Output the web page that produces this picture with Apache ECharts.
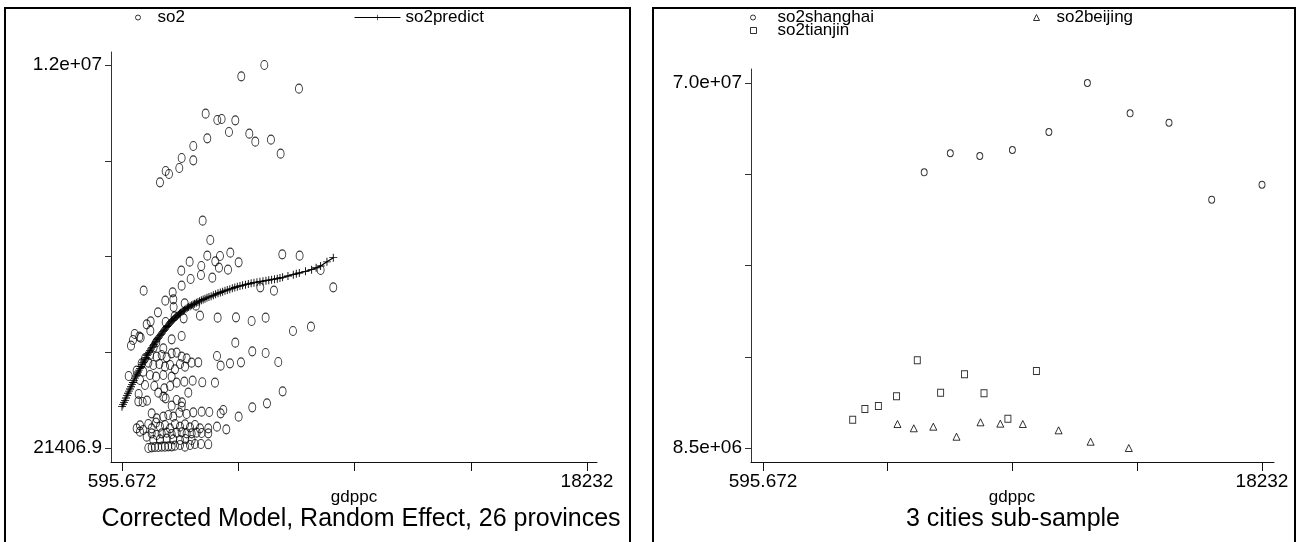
<!DOCTYPE html>
<html>
<head>
<meta charset="utf-8">
<script src="https://cdn.jsdelivr.net/npm/echarts@6/dist/echarts.min.js"></script>
<style>
html,body{margin:0;padding:0;background:#fff;}
#c{width:1298px;height:542px;}
</style>
</head>
<body>
<div id="c"></div>
<script>
// ---------- DATA ----------
// Left panel: so2 (observed) vs gdppc, 26 provinces
const so2Gdppc = [
2036,2251,2377,2769,2858,3300,3300,3768,3831,4210,4375,4653,4893,5120,5424,5651,5993,6245,6612,7307,
3654,3945,3831,4311,4703,6675,7332,3161,3604,4134,5019,4273,4615,2845,8129,3199,3591,4021,2858,8609,5841,6359,1417,
2517,2238,2542,2554,2972,1960,3401,3553,4223,4918,5512,6043,7080,7762,4893,5537,6043,6523,4198,4337,4691,5108,6688,6094,5537,5019,
1531,1683,2251,2479,2858,2934,2592,1076,1253,937,1012,1303,1670,1897,2163,1796,1657,1910,2100,2289,2479,2668,2858,3047,3237,3490,
1467,1341,1594,1783,2011,2226,2416,2605,2795,2985,848,1151,1404,1657,1885,2163,2479,2668,2959,3275,3641,4122,1278,1467,1821,2201,
2416,1973,2163,3111,1227,1215,1379,1543,2251,2479,2668,2870,2858,
1720,1910,2163,2352,2542,2770,3047,3300,3616,3907,4337,4438,1151,1278,1404,1594,1720,1885,2036,2226,2416,2605,2795,2985,3175,3364,
3553,3869,4198,4552,1278,1531,1720,1910,2100,2289,2479,2668,2858,3047,3237,3427,3616,3869,1783,2036,2289,2542,2795,2997,3237,
1594,1720,1847,1973,2100,2226,2352,2479,2605,2795,2985,3175,3364,3591,3869
];
const so2Values = [
8.331e6,8.686e6,8.592e6,8.779e6,9.092e6,9.467e6,9.019e6,10.479e6,9.707e6,10.281e6,10.312e6,9.905e6,10.270e6,11.646e6,9.853e6,9.603e6,12.0e6,9.665e6,9.228e6,11.260e6,
7.132e6,6.528e6,6.038e6,6.027e6,6.131e6,6.079e6,6.038e6,5.850e6,5.714e6,5.860e6,5.829e6,5.662e6,5.600e6,5.568e6,5.589e6,5.308e6,5.433e6,5.349e6,5.099e6,5.047e6,5.047e6,4.943e6,4.943e6,
4.890e6,4.630e6,4.671e6,4.432e6,4.546e6,4.265e6,4.473e6,4.161e6,4.098e6,4.108e6,3.994e6,4.098e6,3.681e6,3.816e6,3.316e6,3.045e6,2.993e6,2.711e6,2.899e6,2.597e6,2.670e6,2.701e6,1.794e6,1.419e6,1.294e6,1.002e6,
3.889e6,3.983e6,3.962e6,3.420e6,3.525e6,4.077e6,4.140e6,3.587e6,3.504e6,3.222e6,3.400e6,3.472e6,3.691e6,3.327e6,3.139e6,3.170e6,2.930e6,2.878e6,2.930e6,2.857e6,2.982e6,3.003e6,2.878e6,2.826e6,2.691e6,2.701e6,
2.826e6,2.670e6,2.691e6,2.618e6,2.649e6,2.565e6,2.618e6,2.482e6,2.649e6,2.565e6,2.274e6,2.440e6,2.409e6,2.305e6,2.253e6,2.305e6,2.253e6,2.065e6,2.096e6,2.128e6,2.076e6,2.065e6,2.148e6,1.992e6,1.961e6,1.888e6,
1.961e6,1.752e6,1.627e6,1.752e6,1.711e6,1.481e6,1.460e6,1.502e6,1.575e6,1.346e6,1.523e6,1.450e6,1.315e6,
1.106e6,0.950e6,1.002e6,1.054e6,1.002e6,1.127e6,1.085e6,1.137e6,1.158e6,1.148e6,1.106e6,1.210e6,0.637e6,0.731e6,0.585e6,0.772e6,0.637e6,0.814e6,0.689e6,0.741e6,0.637e6,0.772e6,0.689e6,0.762e6,0.668e6,0.741e6,
0.637e6,0.637e6,0.689e6,0.606e6,0.533e6,0.376e6,0.480e6,0.428e6,0.480e6,0.501e6,0.460e6,0.501e6,0.512e6,0.480e6,0.480e6,0.501e6,0.491e6,0.480e6,0.272e6,0.293e6,0.314e6,0.293e6,0.272e6,0.303e6,0.272e6,
21406.9,43000,53000,53000,63000,63000,74000,74000,95000,116000,63000,116000,147000,147000,137000
];
// Left panel: fitted values so2predict
const predictGdppc = [595.672,633,671,709,747,785,823,861,899,937,974,1012,1050,1088,1126,1164,1202,1240,1278,1316,1354,1392,1429,1467,1505,1543,1581,1619,1657,1695,1733,1771,1809,1847,1885,1922,1960,1998,2036,2074,2112,2150,2188,2226,2264,2302,2340,2378,2416,2454,2491,2529,2567,2605,2643,2687,2731,2775,2820,2870,2921,2971,3022,3072,3123,3180,3237,3294,3351,3414,3477,3540,3604,3673,3743,3818,3894,3976,4059,4147,4236,4324,4413,4501,4589,4684,4779,4874,4969,5070,5171,5278,5386,5493,5601,5714,5828,5942,6056,6163,6271,6378,6485,6587,6688,6890,7092,7206,7320,7554,7788,7958,8129,8369,8609];
const predictValues = [1.314e6,1.378e6,1.440e6,1.512e6,1.586e6,1.660e6,1.732e6,1.800e6,1.867e6,1.935e6,2.003e6,2.070e6,2.138e6,2.206e6,2.274e6,2.337e6,2.399e6,2.456e6,2.513e6,2.571e6,2.628e6,2.686e6,2.743e6,2.800e6,2.857e6,2.910e6,2.962e6,3.014e6,3.066e6,3.118e6,3.170e6,3.217e6,3.264e6,3.311e6,3.358e6,3.405e6,3.452e6,3.494e6,3.535e6,3.577e6,3.618e6,3.660e6,3.702e6,3.744e6,3.785e6,3.822e6,3.858e6,3.895e6,3.931e6,3.968e6,4.004e6,4.036e6,4.067e6,4.098e6,4.129e6,4.161e6,4.192e6,4.223e6,4.254e6,4.286e6,4.317e6,4.348e6,4.379e6,4.406e6,4.432e6,4.458e6,4.484e6,4.510e6,4.536e6,4.562e6,4.588e6,4.614e6,4.640e6,4.666e6,4.692e6,4.718e6,4.744e6,4.770e6,4.796e6,4.828e6,4.859e6,4.885e6,4.911e6,4.937e6,4.963e6,4.989e6,5.015e6,5.042e6,5.068e6,5.089e6,5.109e6,5.130e6,5.151e6,5.172e6,5.193e6,5.209e6,5.224e6,5.240e6,5.255e6,5.271e6,5.286e6,5.302e6,5.318e6,5.339e6,5.359e6,5.401e6,5.443e6,5.469e6,5.495e6,5.547e6,5.599e6,5.657e6,5.714e6,5.844e6,5.974e6];
// Right panel: 3 cities
const shanghaiGdppc = [6293,7216,8258,9410,10700,12061,13570,14945,16454,18232];
const shanghaiSo2   = [54.95e6,58.16e6,57.70e6,58.71e6,61.74e6,70.0e6,64.89e6,63.31e6,50.34e6,52.87e6];
const tianjinGdppc  = [3766,4197,4674,5314,6049,6873,7717,8407,9251,10259];
const tianjinSo2    = [13.27e6,15.07e6,15.58e6,17.21e6,23.28e6,17.82e6,20.92e6,17.72e6,13.44e6,21.47e6];
const beijingGdppc  = [5349,5925,6615,7435,8283,8983,9778,11043,12174,13524];
const beijingSo2    = [12.54e6,11.82e6,12.09e6,10.40e6,12.83e6,12.60e6,12.54e6,11.48e6,9.56e6,8.5e6];
// Ticks
const xTickValues = [595.672,5004.754,9413.836,13822.918,18232];
const xTickLabels = ['595.672','','','','18232'];
const leftYTickValues = [21406.9,3016055.1,6010703.5,9005351.7,12000000];
const leftYTickLabels = ['21406.9','','','','1.2e+07'];
const rightYTickValues = [8.5e6,23.875e6,39.25e6,54.625e6,70e6];
const rightYTickLabels = ['8.5e+06','','','','7.0e+07'];
const xTitle = 'gdppc';
const panelTitles = ['Corrected Model, Random Effect, 26 provinces', '3 cities sub-sample'];

// ---------- CHART ----------
const FONT = 'Liberation Sans';
const zip = (a, b) => a.map((v, i) => [v, b[i]]);
const labelFor = (vals, labs) => (v) => {
  let best = 0, d = Infinity;
  vals.forEach((t, i) => { const dd = Math.abs(t - v); if (dd < d) { d = dd; best = i; } });
  return labs[best];
};
const shown = (vals, labs) => vals.filter((v, i) => labs[i] !== '');
const PLUS_F = 'path://M0,4H9V5H0Z M4,0H5V9H4Z';

function xAxisCfg(gi, min, max) {
  return {
    type: 'value', gridIndex: gi, min: min, max: max,
    splitLine: {show: false},
    axisLine: {show: true, onZero: false, lineStyle: {color: '#111', width: 1}},
    axisTick: {show: true, length: 9, customValues: xTickValues, lineStyle: {color: '#111'}},
    axisLabel: {customValues: shown(xTickValues, xTickLabels), formatter: labelFor(xTickValues, xTickLabels),
      fontFamily: FONT, fontSize: 19, color: '#000', margin: 10, hideOverlap: false}
  };
}
function yAxisCfg(gi, min, max, vals, labs) {
  return {
    type: 'value', gridIndex: gi, min: min, max: max,
    splitLine: {show: false},
    axisLine: {show: true, onZero: false, lineStyle: {color: '#333', width: 1}},
    axisTick: {show: true, length: 6, customValues: vals, lineStyle: {color: '#333'}},
    axisLabel: {customValues: shown(vals, labs), formatter: labelFor(vals, labs),
      fontFamily: FONT, fontSize: 19, color: '#000', margin: 9, hideOverlap: false}
  };
}
const hollow = {color: 'rgba(0,0,0,0)', borderColor: '#000', borderWidth: 1};
const legTxt = (pad) => ({fontFamily: FONT, fontSize: 17, color: '#000', padding: [0, 0, 0, pad]});
const legBase = {padding: 0, selectedMode: false};
const txt = (x, y, text, size) => ({type: 'text', x: x, y: y, silent: true,
  style: {text: text, fontFamily: FONT, fontSize: size, fill: '#000', align: 'center', verticalAlign: 'middle'}});

const option = {
  animation: false,
  backgroundColor: '#fff',
  grid: [
    {left: 111, top: 52, width: 486, height: 410},
    {left: 751, top: 69, width: 523, height: 393}
  ],
  xAxis: [xAxisCfg(0, 178.5, 18611), xAxisCfg(1, 171.6, 18656)],
  yAxis: [
    yAxisCfg(0, -416457, 12406588, leftYTickValues, leftYTickLabels),
    yAxisCfg(1, 6141100, 72358900, rightYTickValues, rightYTickLabels)
  ],
  legend: [
    Object.assign({data: ['so2'], left: 135, top: 9, itemWidth: 5, itemHeight: 7,
      itemStyle: {borderWidth: 1}, textStyle: legTxt(12)}, legBase),
    Object.assign({data: ['so2predict'], left: 354, top: 9, itemWidth: 46, itemHeight: 7,
      itemStyle: {borderWidth: 0}, lineStyle: {width: 1}, textStyle: legTxt(0)}, legBase),
    Object.assign({data: ['so2shanghai'], left: 750, top: 9, itemWidth: 5, itemHeight: 6,
      itemStyle: {borderWidth: 1}, textStyle: legTxt(17)}, legBase),
    Object.assign({data: ['so2beijing'], left: 1033, top: 9, itemWidth: 6, itemHeight: 6,
      itemStyle: {borderWidth: 1}, textStyle: legTxt(12)}, legBase),
    Object.assign({data: ['so2tianjin'], left: 750, top: 22, itemWidth: 6, itemHeight: 6,
      itemStyle: {borderWidth: 1}, textStyle: legTxt(16)}, legBase)
  ],
  graphic: [
    {type: 'rect', shape: {x: 5, y: 8, width: 625, height: 545}, style: {fill: 'none', stroke: '#000', lineWidth: 2}, silent: true},
    {type: 'rect', shape: {x: 653, y: 8, width: 642, height: 545}, style: {fill: 'none', stroke: '#000', lineWidth: 2}, silent: true},
    txt(354, 497, xTitle, 17),
    txt(1012, 497, xTitle, 17),
    txt(361, 519, panelTitles[0], 25),
    txt(1013, 519, panelTitles[1], 25)
  ],
  series: [
    {name: 'so2', type: 'scatter', xAxisIndex: 0, yAxisIndex: 0, symbol: 'circle', symbolSize: [7, 9],
      itemStyle: hollow, data: zip(so2Gdppc, so2Values)},
    {name: 'so2predict', type: 'line', xAxisIndex: 0, yAxisIndex: 0, symbol: PLUS_F, symbolSize: 8, showSymbol: true,
      lineStyle: {color: '#000', width: 1.3}, itemStyle: {color: '#000'}, data: zip(predictGdppc, predictValues)},
    {name: 'so2shanghai', type: 'scatter', xAxisIndex: 1, yAxisIndex: 1, symbol: 'circle', symbolSize: [6, 7],
      itemStyle: hollow, data: zip(shanghaiGdppc, shanghaiSo2)},
    {name: 'so2beijing', type: 'scatter', xAxisIndex: 1, yAxisIndex: 1, symbol: 'triangle', symbolSize: [7, 7],
      itemStyle: hollow, data: zip(beijingGdppc, beijingSo2)},
    {name: 'so2tianjin', type: 'scatter', xAxisIndex: 1, yAxisIndex: 1, symbol: 'rect', symbolSize: [6, 7],
      itemStyle: hollow, data: zip(tianjinGdppc, tianjinSo2)}
  ]
};
const chart = echarts.init(document.getElementById('c'), null, {renderer: 'canvas'});
chart.setOption(option);
</script>
</body>
</html>
